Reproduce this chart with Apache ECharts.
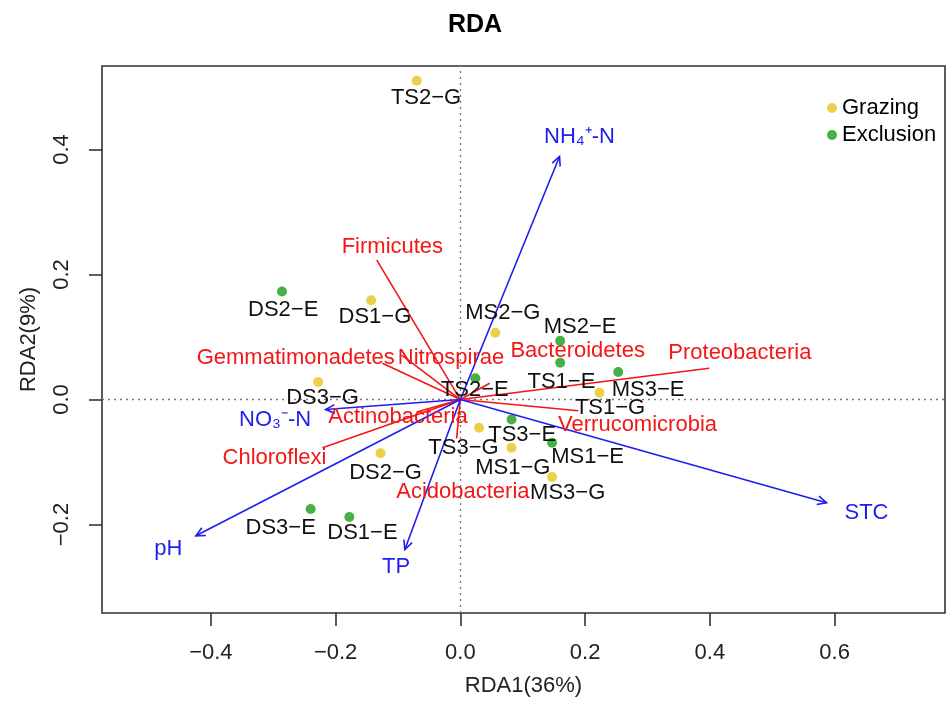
<!DOCTYPE html>
<html>
<head>
<meta charset="utf-8">
<title>RDA</title>
<script src="https://cdn.jsdelivr.net/npm/echarts@6/dist/echarts.min.js"></script>
<style>
  html, body { margin: 0; padding: 0; background: #fff; }
  #main { width: 950px; height: 702px; }
</style>
</head>
<body>
<div id="main"></div>
<script>
// sites (samples)
var siteNames = ['TS2−G', 'DS2−E', 'DS1−G', 'MS2−G', 'MS2−E', 'TS1−E', 'MS3−E', 'TS1−G', 'TS2−E',
                 'DS3−G', 'TS3−E', 'TS3−G', 'MS1−G', 'MS1−E', 'MS3−G', 'DS2−G', 'DS3−E', 'DS1−E'];
var siteGroup = ['G', 'E', 'G', 'G', 'E', 'E', 'E', 'G', 'E',
                 'G', 'E', 'G', 'G', 'E', 'G', 'G', 'E', 'E'];
var siteX = [-0.070, -0.286, -0.143, 0.056, 0.160, 0.160, 0.253, 0.223, 0.024,
             -0.228, 0.082, 0.030, 0.082, 0.147, 0.147, -0.128, -0.240, -0.178];
var siteY = [0.510, 0.173, 0.159, 0.107, 0.094, 0.059, 0.044, 0.011, 0.034,
             0.028, -0.032, -0.045, -0.077, -0.069, -0.124, -0.086, -0.175, -0.188];
// where each site name sits (data units)
var siteLabelX = [-0.055, -0.284, -0.137, 0.068, 0.192, 0.162, 0.301, 0.240, 0.023,
                  -0.221, 0.099, 0.005, 0.084, 0.204, 0.172, -0.120, -0.288, -0.157];
var siteLabelY = [0.482, 0.143, 0.132, 0.138, 0.116, 0.029, 0.015, -0.013, 0.015,
                  0.003, -0.057, -0.077, -0.110, -0.092, -0.150, -0.117, -0.205, -0.214];

// environmental factors (blue arrows)
var envNames = ['NH₄⁺-N', 'NO₃⁻-N', 'pH', 'TP', 'STC'];
var envX = [0.159, -0.216, -0.424, -0.089, 0.587];
var envY = [0.389, -0.016, -0.218, -0.240, -0.165];
var envLabelX = [0.191, -0.297, -0.468, -0.103, 0.651];
var envLabelY = [0.420, -0.032, -0.239, -0.268, -0.182];

// phyla (red lines)
var phylaNames = ['Firmicutes', 'Gemmatimonadetes', 'Nitrospirae', 'Bacteroidetes', 'Proteobacteria',
                  'Actinobacteria', 'Verrucomicrobia', 'Chloroflexi', 'Acidobacteria'];
var phylaX = [-0.134, -0.125, -0.094, 0.047, 0.399, -0.070, 0.189, -0.221, -0.006];
var phylaY = [0.223, 0.058, 0.071, 0.026, 0.050, -0.020, -0.018, -0.077, -0.062];
var phylaLabelX = [-0.109, -0.264, -0.015, 0.188, 0.448, -0.100, 0.284, -0.298, 0.004];
var phylaLabelY = [0.245, 0.066, 0.066, 0.078, 0.074, -0.027, -0.040, -0.094, -0.148];

var xTicks = [-0.4, -0.2, 0, 0.2, 0.4, 0.6];
var yTicks = [-0.2, 0, 0.2, 0.4];

var FONT = "'Liberation Sans', Arial, Helvetica, sans-serif";
var FS = 22;
var RED = '#F41616', BLUE = '#1E1EEE';
var GOLD = '#E6C41A', GREEN = '#189E18';

function fmt(v) {
    return v.toFixed(1).replace('-', '−');
}

function pts(xs, ys) {
    var out = [];
    for (var i = 0; i < xs.length; i++) out.push([xs[i], ys[i]]);
    return out;
}

function groupPoints(g) {
    var out = [];
    for (var i = 0; i < siteNames.length; i++) {
        if (siteGroup[i] == g) out.push({ name: siteNames[i], value: [siteX[i], siteY[i]] });
    }
    return out;
}

// line from the origin, with an open head when head is true
function arrowRender(color, head) {
    return function (params, api) {
        var o = api.coord([0, 0]);
        var p = api.coord([api.value(0), api.value(1)]);
        var kids = [{
            type: 'line',
            shape: { x1: o[0], y1: o[1], x2: p[0], y2: p[1] },
            style: { stroke: color, lineWidth: 1.6 }
        }];
        if (head) {
            var a = Math.atan2(p[1] - o[1], p[0] - o[0]);
            var len = 10, sp = Math.PI / 7;
            kids.push({
                type: 'polyline',
                shape: { points: [
                    [p[0] - len * Math.cos(a - sp), p[1] - len * Math.sin(a - sp)],
                    [p[0], p[1]],
                    [p[0] - len * Math.cos(a + sp), p[1] - len * Math.sin(a + sp)]
                ] },
                style: { stroke: color, fill: null, lineWidth: 1.6 }
            });
        }
        return { type: 'group', children: kids };
    };
}

function textRender(names, color) {
    return function (params, api) {
        var p = api.coord([api.value(0), api.value(1)]);
        return {
            type: 'text',
            x: p[0], y: p[1],
            style: {
                text: names[params.dataIndex],
                textAlign: 'center', textVerticalAlign: 'middle',
                fill: color, font: FS + 'px ' + FONT
            }
        };
    };
}

var chart = echarts.init(document.getElementById('main'));

var option = {
    backgroundColor: '#fff',
    animation: false,
    textStyle: { fontFamily: FONT },
    title: {
        text: 'RDA',
        left: 'center',
        top: 8,
        textStyle: { fontSize: 25, fontWeight: 'bold', color: '#000', fontFamily: FONT }
    },
    legend: {
        orient: 'vertical',
        left: 822,
        top: 92,
        itemWidth: 10,
        itemHeight: 10,
        itemGap: 5,
        icon: 'circle',
        textStyle: { fontSize: FS, color: '#000', fontFamily: FONT },
        data: ['Grazing', 'Exclusion']
    },
    grid: {
        left: 102, right: 5, top: 66, bottom: 89,
        outerBoundsMode: 'none',
        show: true,
        borderColor: '#333',
        borderWidth: 1.6,
        backgroundColor: 'transparent'
    },
    xAxis: {
        type: 'value',
        min: -0.5745,
        max: 0.7769,
        name: 'RDA1(36%)',
        nameLocation: 'middle',
        nameGap: 62,
        nameTextStyle: { fontSize: FS, color: '#222', fontFamily: FONT },
        axisLine: { show: false, onZero: false },
        axisTick: { show: true, inside: false, length: 13, customValues: xTicks,
                    lineStyle: { color: '#333', width: 1.6 } },
        axisLabel: { customValues: xTicks, margin: 29, fontSize: FS, color: '#222',
                     fontFamily: FONT, formatter: fmt },
        splitLine: { show: false }
    },
    yAxis: {
        type: 'value',
        min: -0.3415,
        max: 0.5337,
        name: 'RDA2(9%)',
        nameLocation: 'middle',
        nameGap: 62,
        nameRotate: 90,
        nameTextStyle: { fontSize: FS, color: '#222', fontFamily: FONT },
        axisLine: { show: false, onZero: false },
        axisTick: { show: true, inside: false, length: 13, customValues: yTicks,
                    lineStyle: { color: '#333', width: 1.6 } },
        axisLabel: { customValues: yTicks, margin: 29, fontSize: FS, color: '#222',
                     fontFamily: FONT, rotate: 90, formatter: fmt },
        splitLine: { show: false }
    },
    series: [
        {
            name: 'Grazing',
            type: 'scatter',
            symbol: 'circle',
            symbolSize: 10,
            itemStyle: { color: GOLD },
            data: groupPoints('G'),
            z: 3,
            markLine: {
                silent: true,
                symbol: 'none',
                label: { show: false },
                lineStyle: { type: [2, 4], color: '#777', width: 1.3 },
                data: [{ xAxis: 0 }, { yAxis: 0 }]
            }
        },
        {
            name: 'Exclusion',
            type: 'scatter',
            symbol: 'circle',
            symbolSize: 10,
            itemStyle: { color: GREEN },
            data: groupPoints('E'),
            z: 3
        },
        {
            type: 'custom',
            renderItem: arrowRender(RED, false),
            data: pts(phylaX, phylaY),
            silent: true,
            z: 4
        },
        {
            type: 'custom',
            renderItem: arrowRender(BLUE, true),
            data: pts(envX, envY),
            silent: true,
            z: 5
        },
        {
            type: 'custom',
            renderItem: textRender(siteNames, '#111'),
            data: pts(siteLabelX, siteLabelY),
            silent: true,
            z: 6
        },
        {
            type: 'custom',
            renderItem: textRender(phylaNames, RED),
            data: pts(phylaLabelX, phylaLabelY),
            silent: true,
            z: 6
        },
        {
            type: 'custom',
            renderItem: textRender(envNames, BLUE),
            data: pts(envLabelX, envLabelY),
            silent: true,
            z: 6
        }
    ]
};

chart.setOption(option);
</script>
</body>
</html>
